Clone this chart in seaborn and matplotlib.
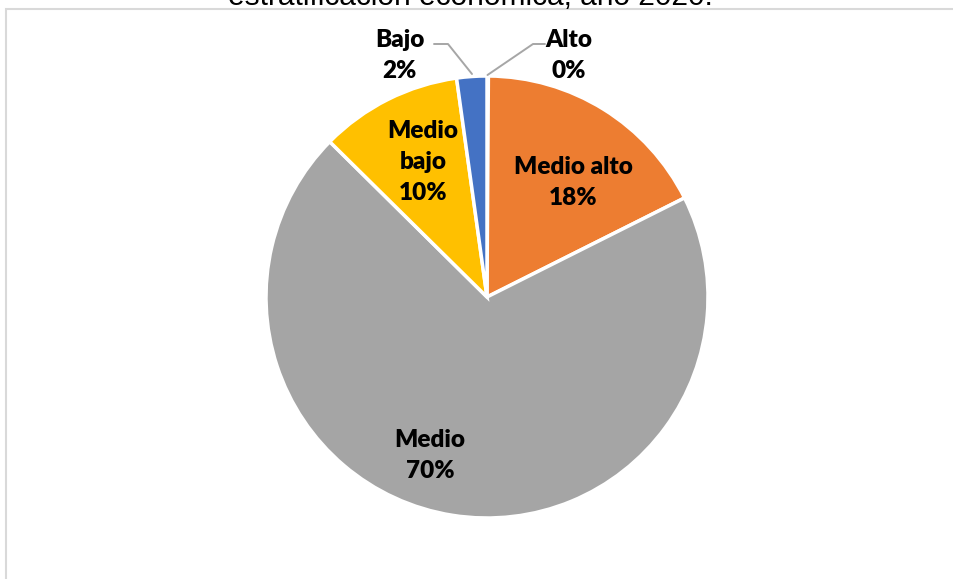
import matplotlib

matplotlib.use("Agg")
import matplotlib.pyplot as plt
import seaborn as sns
from matplotlib.patches import Rectangle

# slices clockwise from 12 o'clock
categories = ["Alto", "Medio alto", "Medio", "Medio bajo", "Bajo"]
shares = [0.1, 17.5, 69.8, 10.4, 2.2]
colors = ["#5B9BD5", "#ED7D31", "#A5A5A5", "#FFC000", "#4472C4"]
label_text = ["Alto", "Medio alto", "Medio", "Medio\nbajo", "Bajo"]

# label anchor points (pie radius units), kept apart from the data
label_pos = {
    "Alto": (0.37, 1.095),
    "Medio alto": (0.39, 0.52),
    "Medio": (-0.258, -0.715),
    "Medio bajo": (-0.29, 0.611),
    "Bajo": (-0.394, 1.095),
}

sns.set_theme(style="white")
plt.rcParams["font.family"] = ["Lato", "DejaVu Sans"]

W, H = 954, 579
fig = plt.figure(figsize=(W / 100, H / 100), dpi=100)

# chart frame (left and top edges visible)
fig.patches.append(
    Rectangle((6.5 / W, -0.05), 1.2, 1 - 8.5 / H + 0.05, transform=fig.transFigure,
              fill=False, edgecolor="#D9D9D9", linewidth=1.5)
)

# title, mostly cut off at top
fig.text(470 / W, 1 - 5 / H, "estratificación económica, año 2020.",
         ha="center", va="baseline", fontsize=21.5, family="Liberation Sans",
         color="#000000")

cx, cy, r = 487, 297, 221
ax = fig.add_axes([(cx - r) / W, (H - cy - r) / H, 2 * r / W, 2 * r / H])
wedges, _ = ax.pie(shares, colors=colors, startangle=90, counterclock=False,
                   radius=1, wedgeprops=dict(edgecolor="white", linewidth=2.5))
ax.set_xlim(-1, 1)
ax.set_ylim(-1, 1)
ax.set_aspect("equal")
ax.axis("off")

for cat, txt, val in zip(categories, label_text, shares):
    x, y = label_pos[cat]
    ax.text(x, y, f"{txt}\n{val:.0f}%", ha="center", va="center",
            fontsize=17.5, fontweight="heavy", color="black", linespacing=1.5,
            clip_on=False)

# leader lines for the small outside labels
gray = "#A6A6A6"
ax.plot([(434 - cx) / r, (448 - cx) / r, (472 - cx) / r],
        [(cy - 44) / r, (cy - 44) / r, (cy - 74) / r], color=gray, lw=1.4,
        clip_on=False)
ax.plot([(545 - cx) / r, (533 - cx) / r, (487.5 - cx) / r],
        [(cy - 44) / r, (cy - 44) / r, (cy - 75) / r], color=gray, lw=1.4,
        clip_on=False)

fig.savefig("out.png", dpi=100)
